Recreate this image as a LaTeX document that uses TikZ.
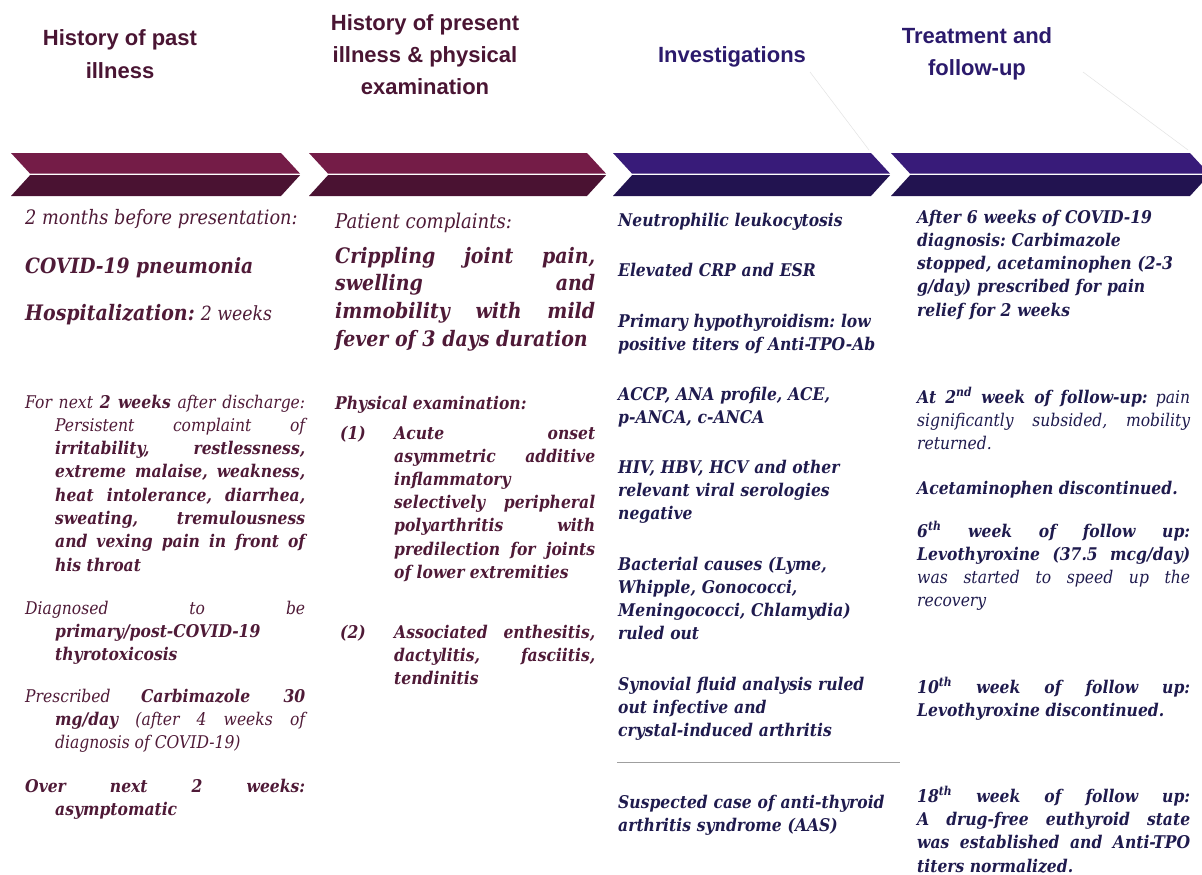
\documentclass[tikz,border=0pt]{standalone}
\usepackage{fontspec}
\setmainfont{DejaVu Serif}[FakeStretch=0.89]
\newfontfamily\headfont{Liberation Sans}
\definecolor{mhead}{HTML}{4A1533}
\definecolor{nhead}{HTML}{2B1A6C}
\definecolor{mtext}{HTML}{4F1A37}
\definecolor{ntext}{HTML}{1F1B4E}
\definecolor{mtop}{HTML}{741C47}
\definecolor{mbot}{HTML}{4A1232}
\definecolor{ptop}{HTML}{381B79}
\definecolor{pbot}{HTML}{221350}
\newcommand\nl{\hfil\break}
\newcommand\hang{\hangindent=30pt\hangafter=1 }
\frenchspacing
\begin{document}
\begin{tikzpicture}[x=1pt,y=-1pt,
  head/.style={anchor=base, inner sep=0pt, align=center, font=\headfont\bfseries\fontsize{22}{32.5}\selectfont},
  body/.style={anchor=base west, inner sep=0pt, align=justify, font=\itshape\fontsize{17.5}{23.3}\selectfont},
  rag/.style={body, align=left},
  col1/.style={body, text width=280pt, text=mtext},
  col2/.style={body, text width=260pt, text=mtext},
  col2i/.style={body, text width=201pt, text=mtext, font=\itshape\bfseries\fontsize{17.5}{23.2}\selectfont},
  col3/.style={rag, text width=290pt, text=ntext, font=\itshape\bfseries\fontsize{17.5}{23.2}\selectfont},
  col4/.style={body, text width=273pt, text=ntext},
  faint/.style={draw=gray!22, line width=0.5pt}
]
\useasboundingbox (0,0) rectangle (1202,875);
\fill[white] (0,0) rectangle (1202,875);

% chevrons
\foreach \L/\T/\ct/\cb in {11/300/mtop/mbot, 309/606/mtop/mbot, 613/890/ptop/pbot, 891/1209/ptop/pbot}{
  \fill[\ct] (\L,153) -- (\T-19,153) -- (\T,173.6) -- (\L+19,173.6) -- cycle;
  \fill[\cb] (\L+19,175.2) -- (\T,175.2) -- (\T-19,196) -- (\L,196) -- cycle;
}

% faint guide lines
\coordinate (g1a) at (810,72); \coordinate (g1b) at (869,150);
\coordinate (g2a) at (1083,72); \coordinate (g2b) at (1188,150);
\draw[faint] (g1a) -- (g1b);
\draw[faint] (g2a) -- (g2b);

% headers (anchor at the baseline of the last line)
\node[head, text=mhead] (h1) at (120,78) {History of past\\illness};
\node[head, text=mhead] (h2) at (425,95) {History of present\\illness \& physical\\examination};
\node[head, text=nhead] (h3) at (732,63) {Investigations};
\node[head, text=nhead] (h4) at (977,76) {Treatment and\\follow-up};

% column 1
\node[col1] (c1a) at (25,224) {\fontsize{19.9}{23}\selectfont 2 months before presentation:};
\node[col1] (c1b) at (25,273) {\fontsize{21}{25}\selectfont\bfseries COVID-19 pneumonia};
\node[col1] (c1c) at (25,320) {\fontsize{21.3}{25}\selectfont\textbf{Hospitalization:} \fontsize{19.5}{25}\selectfont 2 weeks};
\node[col1] (c1d) at (25,408) {\hang For next \textbf{2 weeks} after discharge:\linebreak Persistent complaint of\linebreak \textbf{irritability, restlessness,\linebreak extreme malaise, weakness,\linebreak heat intolerance, diarrhea,\linebreak sweating, tremulousness\linebreak and vexing pain in front of\linebreak his throat}\par};
\node[col1] (c1e) at (25,614) {\hang Diagnosed to be\linebreak \textbf{primary/post-COVID-19\nl thyrotoxicosis}\par};
\node[col1] (c1f) at (25,702) {\hang Prescribed \textbf{Carbimazole 30\linebreak mg/day} (after 4 weeks of\linebreak diagnosis of COVID-19)\par};
\node[col1] (c1g) at (25,792) {\hang \textbf{Over next 2 weeks:\linebreak asymptomatic}\par};

% column 2
\node[col2] (c2a) at (335,228) {\fontsize{20.3}{23}\selectfont Patient complaints:};
\node[col2, font=\itshape\bfseries\fontsize{21.3}{27.7}\selectfont] (c2b) at (335,263) {Crippling joint pain,\linebreak swelling and\linebreak immobility with mild\linebreak fever of 3 days duration};
\node[col2] (c2c) at (335,409) {\textbf{Physical examination:}};
\node[col2i, text width=40pt] (n1) at (340,439) {(1)};
\node[col2i] (c2d) at (394,439) {Acute onset\linebreak asymmetric additive\linebreak inflammatory\nl selectively peripheral\linebreak polyarthritis with\linebreak predilection for joints\linebreak of lower extremities};
\node[col2i, text width=40pt] (n2) at (340,638) {(2)};
\node[col2i] (c2e) at (394,638) {Associated enthesitis,\linebreak dactylitis, fasciitis,\linebreak tendinitis};

% column 3
\node[col3] (c3a) at (618,226) {Neutrophilic leukocytosis};
\node[col3] (c3b) at (618,276) {Elevated CRP and ESR};
\node[col3] (c3c) at (618,327) {Primary hypothyroidism: low\\positive titers of Anti-TPO-Ab};
\node[col3] (c3d) at (618,400) {ACCP, ANA profile, ACE,\\p-ANCA, c-ANCA};
\node[col3] (c3e) at (618,473) {HIV, HBV, HCV and other\\relevant viral serologies\\negative};
\node[col3] (c3f) at (618,570) {Bacterial causes (Lyme,\\Whipple, Gonococci,\\Meningococci, Chlamydia)\\ruled out};
\node[col3] (c3g) at (618,690) {Synovial fluid analysis ruled\\out infective and\\crystal-induced arthritis};
\coordinate (s1) at (617,762); \coordinate (s2) at (900,762);
\draw[gray!75, line width=0.9pt] (s1) -- (s2);
\node[col3] (c3h) at (618,808) {Suspected case of anti-thyroid\\arthritis syndrome (AAS)};

% column 4
\node[col4, align=left] (c4a) at (917,223) {\bfseries After 6 weeks of COVID-19\\diagnosis: Carbimazole\\stopped, acetaminophen (2-3\\g/day) prescribed for pain\\relief for 2 weeks};
\node[col4] (c4b) at (917,403) {\textbf{At 2\textsuperscript{nd} week of follow-up:} pain\linebreak significantly subsided, mobility\linebreak returned.};
\node[col4] (c4c) at (917,494) {\textbf{Acetaminophen discontinued.}};
\node[col4] (c4d) at (917,537) {\textbf{6\textsuperscript{th} week of follow up:\linebreak Levothyroxine (37.5 mcg/day)}\linebreak was started to speed up the\linebreak recovery};
\node[col4] (c4e) at (917,693) {\textbf{10\textsuperscript{th} week of follow up:\linebreak Levothyroxine discontinued.}};
\node[col4, font=\itshape\fontsize{17.5}{23.4}\selectfont] (c4f) at (917,802) {\textbf{18\textsuperscript{th} week of follow up:\linebreak A drug-free euthyroid state\linebreak was established and Anti-TPO\linebreak titers normalized.}};
\end{tikzpicture}
\end{document}
